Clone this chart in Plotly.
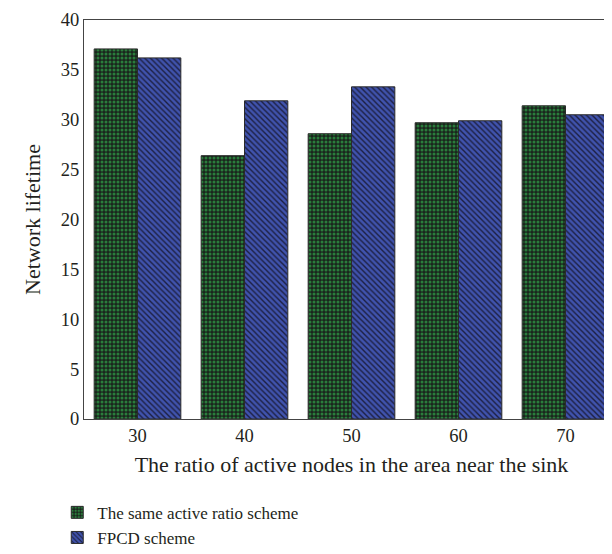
import plotly.graph_objects as go

ratios = ["30", "40", "50", "60", "70"]
same_ratio = [37.1, 26.4, 28.6, 29.7, 31.4]
fpcd = [36.2, 31.9, 33.3, 29.9, 30.5]

font = dict(family="Liberation Serif, Times New Roman, serif", size=18.5, color="#231f20")

fig = go.Figure()
fig.add_trace(go.Bar(
    x=ratios, y=same_ratio, name="The same active ratio scheme",
    marker=dict(
        color="#1a261d",
        line=dict(color="#2b2b2b", width=1),
        pattern=dict(shape=".", fgcolor="#2a7d3c", bgcolor="#1a261d",
                     size=4, solidity=0.45, fillmode="replace"),
    ),
))
fig.add_trace(go.Bar(
    x=ratios, y=fpcd, name="FPCD scheme",
    marker=dict(
        color="#4053ad",
        line=dict(color="#2b2b2b", width=1),
        pattern=dict(shape="\\", fgcolor="#1d2042", bgcolor="#4053ad",
                     size=4, solidity=0.35, fillmode="replace"),
    ),
))

fig.update_layout(
    width=612, height=554,
    margin=dict(l=76, r=1, t=12, b=143, autoexpand=False),
    paper_bgcolor="white", plot_bgcolor="white",
    font=font,
    barmode="group", bargap=0.19, bargroupgap=0,
    showlegend=True,
    legend=dict(x=-0.05, xanchor="left", y=-0.19, yanchor="top",
                font=dict(family=font["family"], size=17, color="#231f20"),
                tracegroupgap=0, bgcolor="rgba(0,0,0,0)"),
)
fig.update_xaxes(
    title=dict(text="The ratio of active nodes in the area near the sink", standoff=11),
    showline=True, linecolor="#444", linewidth=1, mirror=True,
    ticks="", showgrid=False,
)
fig.update_yaxes(
    title=dict(text="Network lifetime", standoff=14),
    range=[0, 40], tickvals=[0, 5, 10, 15, 20, 25, 30, 35, 40],
    showline=True, linecolor="#444", linewidth=1, mirror=True,
    ticks="", showgrid=False, zeroline=False,
)

fig.write_html("out.html")
